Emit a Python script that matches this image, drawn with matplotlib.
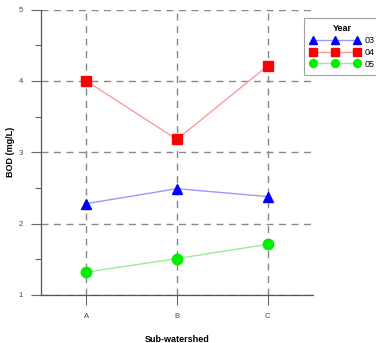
import matplotlib
matplotlib.use("Agg")
import matplotlib.pyplot as plt
from matplotlib.ticker import MultipleLocator

plt.rcParams['font.family'] = ['Liberation Sans', 'DejaVu Sans']

categories = ['A', 'B', 'C']
years = ['03', '04', '05']
bod_03 = [2.28, 2.49, 2.38]
bod_04 = [4.00, 3.18, 4.21]
bod_05 = [1.32, 1.51, 1.71]

fig = plt.figure(figsize=(3.76, 3.43), dpi=100)
ax = fig.add_axes([0.109, 0.14, 0.723, 0.832])

x = list(range(len(categories)))
series = [
    (bod_03, '^', '#0000ff', '#9999ff', 7),
    (bod_04, 's', '#ff0000', '#ff9999', 7.5),
    (bod_05, 'o', '#00ee00', '#99ee99', 7.5),
]
for (vals, m, mc, lc, ms), yr in zip(series, years):
    ax.plot(x, vals, color=lc, lw=1.0, marker=m, markersize=ms,
            markerfacecolor=mc, markeredgecolor=mc, label=yr, zorder=3)

ax.set_xlim(-0.5, 2.5)
ax.set_ylim(1, 5)
ax.set_xticks(x)
ax.set_xticklabels(categories)
ax.yaxis.set_major_locator(MultipleLocator(1))
ax.yaxis.set_minor_locator(MultipleLocator(0.5))

ax.grid(True, which='major', color='#888888', linestyle=(0, (5, 4)), lw=1.0, zorder=1)
for s in ['top', 'right']:
    ax.spines[s].set_visible(False)
for s in ['left', 'bottom']:
    ax.spines[s].set_color('#555555')
    ax.spines[s].set_linewidth(0.9)

ax.tick_params(axis='both', which='major', length=7, width=0.8, color='#666666',
               labelsize=5.5, labelcolor='#444444', direction='out', pad=6)
ax.tick_params(axis='y', which='minor', length=4, width=0.8, color='#666666', direction='out')

ax.set_xlabel('Sub-watershed', fontsize=6.5, fontweight='bold', labelpad=11)
ax.set_ylabel('BOD (mg/L)', fontsize=6.5, fontweight='bold')
ax.yaxis.set_label_coords(-0.095, 0.5)

leg = ax.legend(title='Year', loc='upper left', bbox_to_anchor=(0.966, 0.97),
                numpoints=3, fontsize=6.5, title_fontproperties={'weight': 'bold', 'size': 6.5},
                frameon=True, fancybox=False, edgecolor='#888888', borderpad=0.7,
                handlelength=5.5, handletextpad=0.6, labelspacing=0.3, borderaxespad=0,
                markerscale=0.75)
leg.get_frame().set_linewidth(0.8)

fig.savefig('out.png', dpi=100)
